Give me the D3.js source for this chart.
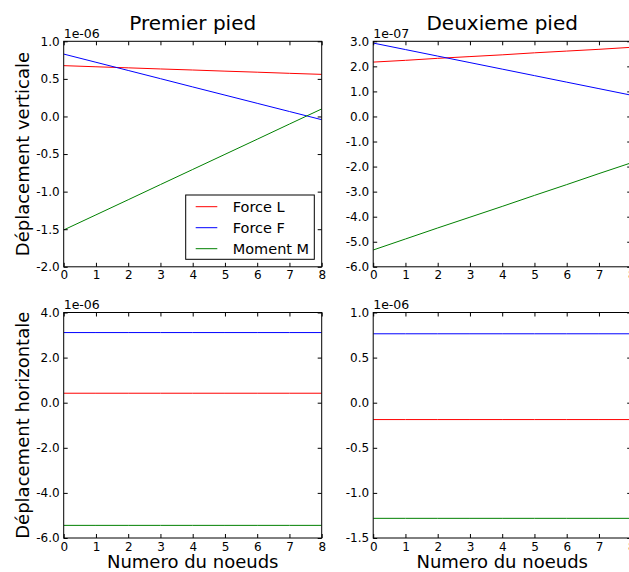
<!DOCTYPE html>
<html><head><meta charset="utf-8">
<script src="https://cdn.jsdelivr.net/npm/d3@7"></script>
<style>
body{margin:0;background:#fff}
svg text{font-family:"DejaVu Sans",sans-serif;fill:#000}
</style></head>
<body><svg id="c" width="629" height="572"></svg>
<script>
// ---------- data ----------
const nodes = [0,1,2,3,4,5,6,7,8];
const seriesNames = ["Force L","Force F","Moment M"];

// Premier pied, vertical (x 1e-06)
const p1V_L = [0.676,0.661,0.647,0.632,0.618,0.603,0.589,0.574,0.560];
const p1V_F = [0.830,0.721,0.612,0.503,0.393,0.284,0.175,0.066,-0.043];
const p1V_M = [-1.510,-1.309,-1.108,-0.906,-0.705,-0.504,-0.303,-0.101,0.100];
// Deuxieme pied, vertical (x 1e-07)
const p2V_L = [2.17,2.24,2.32,2.39,2.46,2.54,2.61,2.68,2.76];
const p2V_F = [2.93,2.67,2.41,2.15,1.89,1.63,1.37,1.11,0.85];
const p2V_M = [-5.33,-4.89,-4.45,-4.02,-3.59,-3.15,-2.72,-2.28,-1.85];
// Premier pied, horizontal (x 1e-06)
const p1H_L = [0.42,0.42,0.42,0.42,0.42,0.42,0.42,0.42,0.42];
const p1H_F = [3.11,3.11,3.11,3.11,3.11,3.11,3.11,3.11,3.11];
const p1H_M = [-5.44,-5.44,-5.44,-5.44,-5.44,-5.44,-5.44,-5.44,-5.44];
// Deuxieme pied, horizontal (x 1e-06)
const p2H_L = [-0.187,-0.187,-0.187,-0.187,-0.187,-0.187,-0.187,-0.187,-0.187];
const p2H_F = [0.764,0.764,0.764,0.764,0.764,0.764,0.764,0.764,0.764];
const p2H_M = [-1.282,-1.282,-1.282,-1.282,-1.282,-1.282,-1.282,-1.282,-1.282];

const xTicks = [0,1,2,3,4,5,6,7,8];
const yTicks_p1V = [-2.0,-1.5,-1.0,-0.5,0.0,0.5,1.0];
const yTicks_p2V = [-6,-5,-4,-3,-2,-1,0,1,2,3];
const yTicks_p1H = [-6,-4,-2,0,2,4];
const yTicks_p2H = [-1.5,-1.0,-0.5,0.0,0.5,1.0];

const titles = ["Premier pied","Deuxieme pied"];
const yLabels = ["Déplacement verticale","Déplacement horizontale"];
const xLabel = "Numero du noeuds";
const offsets = ["1e-06","1e-07","1e-06","1e-06"];

// ---------- styles / layout ----------
const colors = ["#ff0000","#0000ff","#008000"];
const svg = d3.select("#c");
const W = 258, H = 225.5;
const panels = [
  {x:63.7, y:41.3, dom:[-2,1], ticks:yTicks_p1V, series:[p1V_L,p1V_F,p1V_M], off:offsets[0], legend:true},
  {x:373.2,y:41.3, dom:[-6,3], ticks:yTicks_p2V, series:[p2V_L,p2V_F,p2V_M], off:offsets[1]},
  {x:63.7, y:312.5,dom:[-6,4], ticks:yTicks_p1H, series:[p1H_L,p1H_F,p1H_M], off:offsets[2]},
  {x:373.2,y:312.5,dom:[-1.5,1], ticks:yTicks_p2H, series:[p2H_L,p2H_F,p2H_M], off:offsets[3]}
];

panels.forEach((p,i)=>{
  const g = svg.append("g").attr("transform",`translate(${p.x},${p.y})`);
  const x = d3.scaleLinear().domain([0,8]).range([0,W]);
  const y = d3.scaleLinear().domain(p.dom).range([H,0]);
  const cid = "clip"+i;
  g.append("clipPath").attr("id",cid).append("rect").attr("width",W).attr("height",H);

  const line = d3.line().x((d,k)=>x(nodes[k])).y(d=>y(d));
  p.series.forEach((s,k)=>{
    g.append("path").datum(s).attr("d",line).attr("fill","none")
      .attr("stroke",colors[k]).attr("stroke-width",1).attr("clip-path",`url(#${cid})`);
  });

  const fmt = d3.format(".1f");
  const fmtY = v => fmt(v).replace("−","-");
  const styleAxis = a => { a.select(".domain").remove(); a.selectAll("line").attr("stroke","#000"); a.selectAll("text").style("font-size","12px").style("font-family","'DejaVu Sans',sans-serif"); };

  g.append("g").call(d3.axisLeft(y).tickValues(p.ticks).tickFormat(fmtY).tickSizeInner(-4).tickSizeOuter(0).tickPadding(4)).call(styleAxis);
  g.append("g").attr("transform",`translate(${W},0)`).call(d3.axisRight(y).tickValues(p.ticks).tickFormat("").tickSizeInner(-4).tickSizeOuter(0)).call(styleAxis);
  g.append("g").attr("transform",`translate(0,${H})`).call(d3.axisBottom(x).tickValues(xTicks).tickFormat(d3.format("d")).tickSizeInner(-4).tickSizeOuter(0).tickPadding(4)).call(styleAxis);
  g.append("g").call(d3.axisTop(x).tickValues(xTicks).tickFormat("").tickSizeInner(-4).tickSizeOuter(0)).call(styleAxis);

  g.append("rect").attr("width",W).attr("height",H).attr("fill","none").attr("stroke","#000").attr("stroke-width",1);

  g.append("text").attr("x",0).attr("y",-3.5).style("font-size","12.5px").text(p.off);

  if(i<2){
    g.append("text").attr("x",W/2).attr("y",-11.5).attr("text-anchor","middle").style("font-size","20px").text(titles[i]);
  } else {
    g.append("text").attr("x",W/2).attr("y",H+30).attr("text-anchor","middle").style("font-size","18px").text(xLabel);
  }
  if(i%2===0){
    g.append("text").attr("transform",`translate(${28.5-p.x},${H/2}) rotate(-90)`).attr("text-anchor","middle").style("font-size","18px").text(yLabels[i/2]);
  }

  if(p.legend){
    const lg = g.append("g").attr("transform",`translate(${185.7-p.x},${195-p.y})`);
    lg.append("rect").attr("width",128.6).attr("height",64.3).attr("fill","#fff").attr("stroke","#000").attr("stroke-width",1);
    seriesNames.forEach((n,k)=>{
      const yy = 11.7 + k*21;
      lg.append("line").attr("x1",10).attr("x2",31.6).attr("y1",yy).attr("y2",yy).attr("stroke",colors[k]).attr("stroke-width",1);
      lg.append("text").attr("x",47).attr("y",yy).attr("dy","0.36em").style("font-size","14.5px").text(n);
    });
  }
});
</script></body></html>
